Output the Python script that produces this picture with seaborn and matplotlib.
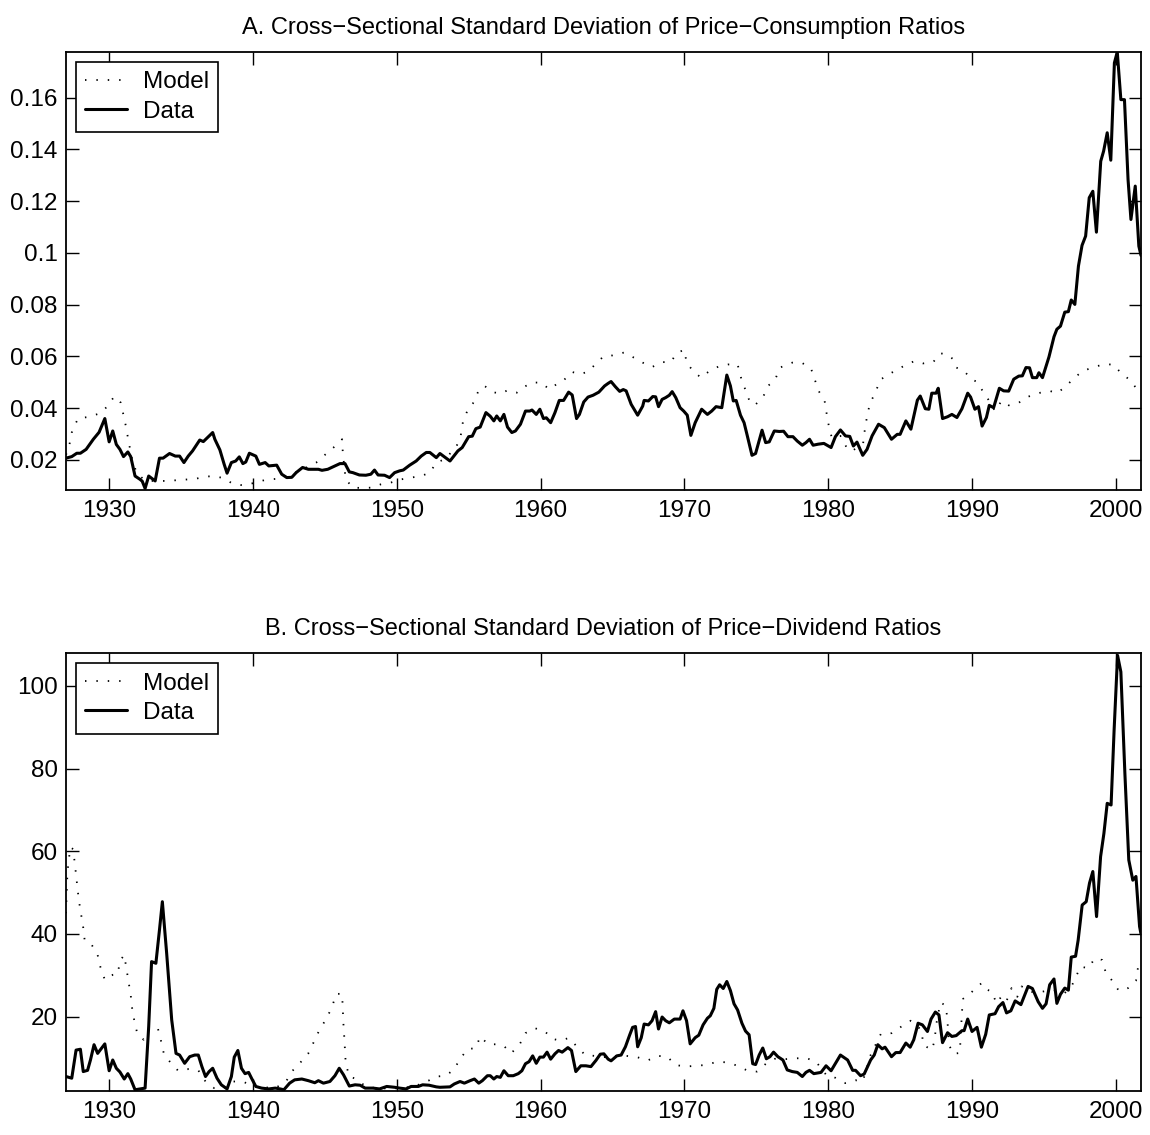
import numpy as np
import pandas as pd
import matplotlib
matplotlib.use("Agg")
import matplotlib.pyplot as plt
import seaborn as sns

sns.set_style("ticks")
plt.rcParams["font.family"] = ["Liberation Sans", "DejaVu Sans"]
plt.rcParams["text.color"] = "black"
plt.rcParams["xtick.color"] = "black"
plt.rcParams["ytick.color"] = "black"
plt.rcParams["axes.labelcolor"] = "black"

# ---------------- Panel A: price-consumption ratios ----------------
a_data_year = [1927.0, 1927.4, 1927.75, 1928.0, 1928.4, 1928.9, 1929.3, 1929.7, 1930.0, 1930.25,
               1930.5, 1930.75, 1931.0, 1931.3, 1931.5, 1931.8, 1932.15, 1932.3, 1932.5, 1932.75,
               1933.2, 1933.5, 1933.75, 1934.2, 1934.6, 1934.9, 1935.2, 1935.5, 1935.8, 1936.3,
               1936.55, 1936.9, 1937.2, 1937.35, 1937.7, 1938.0, 1938.2, 1938.5, 1938.8, 1939.05,
               1939.3, 1939.5, 1939.75, 1940.2, 1940.45, 1940.85, 1941.1, 1941.65, 1942.0, 1942.35,
               1942.7, 1943.0, 1943.45, 1943.85, 1944.2, 1944.55, 1944.8, 1945.2, 1945.7, 1946.05,
               1946.4, 1946.7, 1946.95, 1947.4, 1947.85, 1948.2, 1948.45, 1948.7, 1949.15, 1949.5,
               1949.85, 1950.2, 1950.45, 1950.9, 1951.35, 1951.7, 1952.05, 1952.3, 1952.75, 1953.0,
               1953.7, 1954.25, 1954.55, 1955.0, 1955.25, 1955.5, 1955.8, 1956.2, 1956.5, 1956.75,
               1956.95, 1957.2, 1957.45, 1957.7, 1958.0, 1958.25, 1958.6, 1958.95, 1959.25, 1959.4,
               1959.7, 1959.95, 1960.2, 1960.4, 1960.7, 1961.0, 1961.3, 1961.6, 1961.95, 1962.2,
               1962.5, 1962.7, 1963.0, 1963.3, 1963.65, 1964.05, 1964.45, 1964.7, 1964.9, 1965.2,
               1965.5, 1965.75, 1965.95, 1966.3, 1966.75, 1967.1, 1967.2, 1967.5, 1967.8, 1968.0,
               1968.2, 1968.45, 1968.7, 1968.95, 1969.15, 1969.4, 1969.7, 1969.95, 1970.2, 1970.45,
               1970.75, 1971.2, 1971.6, 1971.9, 1972.2, 1972.6, 1972.95, 1973.2, 1973.4, 1973.6,
               1973.9, 1974.15, 1974.35, 1974.7, 1974.95, 1975.4, 1975.65, 1975.9, 1976.25, 1976.6,
               1976.9, 1977.2, 1977.55, 1977.85, 1978.2, 1978.45, 1978.7, 1978.95, 1979.3, 1979.7,
               1980.2, 1980.5, 1980.85, 1981.2, 1981.5, 1981.75, 1982.0, 1982.4, 1982.7, 1983.05,
               1983.5, 1983.9, 1984.4, 1984.8, 1985.0, 1985.4, 1985.75, 1986.2, 1986.4, 1986.75,
               1987.0, 1987.2, 1987.5, 1987.65, 1987.95, 1988.3, 1988.6, 1988.95, 1989.3, 1989.7,
               1989.9, 1990.2, 1990.45, 1990.7, 1991.0, 1991.2, 1991.5, 1991.9, 1992.2, 1992.55,
               1992.9, 1993.25, 1993.5, 1993.75, 1994.0, 1994.2, 1994.5, 1994.65, 1994.9, 1995.35,
               1995.7, 1995.9, 1996.15, 1996.45, 1996.7, 1996.9, 1997.15, 1997.4, 1997.65, 1997.9,
               1998.15, 1998.4, 1998.65, 1998.95, 1999.15, 1999.4, 1999.65, 1999.9, 2000.1, 2000.35,
               2000.6, 2000.85, 2001.05, 2001.35, 2001.6, 2001.75]
a_data_val = [0.0207, 0.0213, 0.0226, 0.0226, 0.0241, 0.0280, 0.0307, 0.0360, 0.0270, 0.0312,
              0.0260, 0.0241, 0.0213, 0.0231, 0.0213, 0.0138, 0.0125, 0.0118, 0.0090, 0.0138,
              0.0119, 0.0207, 0.0207, 0.0225, 0.0215, 0.0215, 0.0190, 0.0215, 0.0235, 0.0277,
              0.0271, 0.0290, 0.0306, 0.0280, 0.0239, 0.0183, 0.0149, 0.0190, 0.0196, 0.0212,
              0.0186, 0.0192, 0.0226, 0.0215, 0.0183, 0.0190, 0.0177, 0.0180, 0.0145, 0.0132,
              0.0133, 0.0151, 0.0171, 0.0164, 0.0164, 0.0164, 0.0160, 0.0164, 0.0177, 0.0186,
              0.0186, 0.0154, 0.0151, 0.0142, 0.0141, 0.0145, 0.0161, 0.0142, 0.0141, 0.0132,
              0.0151, 0.0158, 0.0161, 0.0180, 0.0196, 0.0215, 0.0229, 0.0229, 0.0209, 0.0225,
              0.0196, 0.0235, 0.0248, 0.0290, 0.0292, 0.0321, 0.0327, 0.0383, 0.0369, 0.0351,
              0.0370, 0.0351, 0.0376, 0.0327, 0.0306, 0.0312, 0.0338, 0.0389, 0.0389, 0.0393,
              0.0376, 0.0396, 0.0360, 0.0363, 0.0344, 0.0383, 0.0430, 0.0430, 0.0462, 0.0451,
              0.0360, 0.0376, 0.0424, 0.0443, 0.0450, 0.0462, 0.0486, 0.0496, 0.0503, 0.0483,
              0.0465, 0.0472, 0.0467, 0.0415, 0.0373, 0.0408, 0.0430, 0.0428, 0.0445, 0.0444,
              0.0406, 0.0434, 0.0441, 0.0450, 0.0464, 0.0441, 0.0402, 0.0389, 0.0373, 0.0295,
              0.0344, 0.0396, 0.0376, 0.0389, 0.0406, 0.0402, 0.0528, 0.0486, 0.0428, 0.0430,
              0.0373, 0.0344, 0.0299, 0.0218, 0.0225, 0.0315, 0.0267, 0.0270, 0.0312, 0.0310,
              0.0311, 0.0290, 0.0290, 0.0273, 0.0257, 0.0267, 0.0280, 0.0257, 0.0261, 0.0264,
              0.0248, 0.0290, 0.0316, 0.0293, 0.0291, 0.0254, 0.0269, 0.0218, 0.0241, 0.0293,
              0.0338, 0.0325, 0.0280, 0.0299, 0.0299, 0.0351, 0.0319, 0.0431, 0.0447, 0.0398,
              0.0396, 0.0458, 0.0458, 0.0477, 0.0360, 0.0367, 0.0376, 0.0364, 0.0398, 0.0458,
              0.0443, 0.0396, 0.0406, 0.0331, 0.0364, 0.0411, 0.0402, 0.0477, 0.0467, 0.0466,
              0.0512, 0.0524, 0.0525, 0.0557, 0.0556, 0.0518, 0.0518, 0.0537, 0.0518, 0.0598,
              0.0676, 0.0705, 0.0717, 0.0771, 0.0773, 0.0818, 0.0801, 0.0949, 0.1029, 0.1065,
              0.1213, 0.1238, 0.1080, 0.1354, 0.1393, 0.1464, 0.1358, 0.1734, 0.1776, 0.1592,
              0.1592, 0.1283, 0.1129, 0.1258, 0.1026, 0.0990]

a_model_year = [1927.0, 1927.2, 1927.4, 1927.6, 1927.85, 1928.55, 1929.3, 1929.85, 1930.35, 1930.8,
                1931.0, 1931.2, 1931.35, 1931.6, 1931.9, 1932.4, 1932.85, 1934.0, 1935.0, 1936.0,
                1936.6, 1937.25, 1937.95, 1938.6, 1939.3, 1940.15, 1940.85, 1941.6, 1942.5, 1943.5,
                1944.4, 1945.05, 1945.6, 1946.2, 1946.25, 1946.45, 1946.95, 1947.5, 1948.25, 1948.9,
                1949.6, 1950.3, 1951.0, 1951.7, 1952.3, 1952.75, 1953.35, 1954.15, 1954.45, 1954.6,
                1954.95, 1955.3, 1955.7, 1956.1, 1956.7, 1957.2, 1957.7, 1958.35, 1958.85, 1959.4,
                1960.05, 1960.6, 1961.2, 1961.55, 1962.2, 1962.7, 1963.25, 1963.75, 1964.35, 1965.0,
                1965.8, 1966.5, 1967.1, 1967.75, 1968.45, 1969.05, 1969.5, 1970.0, 1970.15, 1970.6,
                1971.15, 1971.75, 1972.45, 1973.05, 1973.7, 1973.95, 1974.5, 1974.9, 1975.5, 1975.85,
                1976.3, 1976.65, 1977.5, 1978.15, 1978.8, 1979.1, 1979.4, 1979.75, 1979.9, 1980.05,
                1980.25, 1980.85, 1981.35, 1981.7, 1982.1, 1982.35, 1982.55, 1982.7, 1982.9, 1983.3,
                1983.6, 1984.2, 1984.75, 1985.35, 1986.0, 1986.6, 1987.3, 1987.8, 1988.25, 1988.65,
                1988.9, 1989.45, 1989.95, 1990.3, 1990.75, 1991.15, 1991.6, 1992.05, 1992.55, 1993.2,
                1993.75, 1994.35, 1994.9, 1995.45, 1995.9, 1996.5, 1997.05, 1997.7, 1998.4, 1999.1,
                1999.8, 2000.3, 2000.9, 2001.45, 2001.75]
a_model_val = [0.0220, 0.0248, 0.0306, 0.0333, 0.0361, 0.0366, 0.0379, 0.0405, 0.0445, 0.0422,
               0.0373, 0.0321, 0.0271, 0.0204, 0.0151, 0.0125, 0.0119, 0.0119, 0.0123, 0.0127,
               0.0135, 0.0138, 0.0130, 0.0108, 0.0102, 0.0112, 0.0123, 0.0127, 0.0140, 0.0165,
               0.0190, 0.0222, 0.0248, 0.0280, 0.0225, 0.0125, 0.0093, 0.0092, 0.0093, 0.0106,
               0.0113, 0.0125, 0.0132, 0.0138, 0.0151, 0.0190, 0.0203, 0.0252, 0.0295, 0.0347,
               0.0396, 0.0419, 0.0469, 0.0486, 0.0462, 0.0456, 0.0469, 0.0460, 0.0482, 0.0499,
               0.0499, 0.0473, 0.0496, 0.0505, 0.0540, 0.0531, 0.0540, 0.0566, 0.0599, 0.0604,
               0.0615, 0.0595, 0.0576, 0.0559, 0.0578, 0.0578, 0.0615, 0.0625, 0.0576, 0.0544,
               0.0518, 0.0544, 0.0563, 0.0569, 0.0569, 0.0515, 0.0432, 0.0411, 0.0447, 0.0488,
               0.0509, 0.0557, 0.0576, 0.0576, 0.0554, 0.0505, 0.0460, 0.0428, 0.0376, 0.0329,
               0.0286, 0.0293, 0.0241, 0.0235, 0.0254, 0.0229, 0.0319, 0.0368, 0.0419, 0.0462,
               0.0509, 0.0531, 0.0547, 0.0566, 0.0582, 0.0573, 0.0578, 0.0612, 0.0608, 0.0591,
               0.0557, 0.0544, 0.0512, 0.0503, 0.0466, 0.0432, 0.0389, 0.0428, 0.0411, 0.0419,
               0.0441, 0.0454, 0.0462, 0.0466, 0.0458, 0.0483, 0.0514, 0.0544, 0.0557, 0.0569,
               0.0569, 0.0540, 0.0512, 0.0476, 0.0465]

# ---------------- Panel B: price-dividend ratios ----------------
b_data_year = [1927.0, 1927.4, 1927.7, 1928.0, 1928.2, 1928.5, 1928.7, 1928.95, 1929.2, 1929.7,
               1930.0, 1930.25, 1930.5, 1930.75, 1931.05, 1931.3, 1931.5, 1931.8, 1932.15, 1932.5,
               1932.75, 1932.95, 1933.25, 1933.5, 1933.7, 1934.0, 1934.35, 1934.65, 1934.9, 1935.25,
               1935.6, 1935.95, 1936.2, 1936.45, 1936.7, 1936.95, 1937.2, 1937.5, 1937.8, 1938.2,
               1938.5, 1938.7, 1938.95, 1939.2, 1939.45, 1939.7, 1939.9, 1940.2, 1940.6, 1941.1,
               1941.55, 1941.9, 1942.15, 1942.55, 1942.9, 1943.4, 1943.85, 1944.3, 1944.55, 1944.9,
               1945.35, 1945.7, 1946.0, 1946.3, 1946.7, 1947.1, 1947.45, 1947.8, 1948.35, 1948.8,
               1949.3, 1949.85, 1950.2, 1950.65, 1951.0, 1951.5, 1951.8, 1952.25, 1952.75, 1953.0,
               1953.7, 1954.0, 1954.4, 1954.7, 1955.1, 1955.4, 1955.7, 1955.95, 1956.3, 1956.5,
               1956.75, 1956.95, 1957.2, 1957.45, 1957.75, 1958.1, 1958.45, 1958.7, 1958.95, 1959.2,
               1959.45, 1959.7, 1959.95, 1960.2, 1960.45, 1960.7, 1961.0, 1961.25, 1961.5, 1961.9,
               1962.15, 1962.45, 1962.8, 1963.15, 1963.5, 1963.85, 1964.15, 1964.4, 1964.7, 1964.9,
               1965.3, 1965.6, 1965.9, 1966.2, 1966.4, 1966.6, 1966.75, 1967.0, 1967.2, 1967.5,
               1967.75, 1968.0, 1968.2, 1968.45, 1968.7, 1968.95, 1969.3, 1969.7, 1969.9, 1970.15,
               1970.4, 1970.75, 1971.0, 1971.3, 1971.6, 1971.8, 1972.05, 1972.25, 1972.45, 1972.7,
               1972.95, 1973.2, 1973.45, 1973.7, 1974.0, 1974.25, 1974.5, 1974.75, 1974.95, 1975.2,
               1975.45, 1975.7, 1975.95, 1976.2, 1976.5, 1976.85, 1977.15, 1977.5, 1977.85, 1978.2,
               1978.45, 1978.7, 1979.0, 1979.5, 1979.85, 1980.2, 1980.85, 1981.35, 1981.7, 1981.9,
               1982.25, 1982.5, 1982.95, 1983.2, 1983.45, 1983.75, 1983.95, 1984.4, 1984.7, 1985.0,
               1985.4, 1985.7, 1985.95, 1986.25, 1986.55, 1986.9, 1987.15, 1987.45, 1987.7, 1987.95,
               1988.3, 1988.6, 1988.9, 1989.3, 1989.45, 1989.7, 1990.0, 1990.35, 1990.65, 1990.95,
               1991.2, 1991.6, 1991.85, 1992.15, 1992.4, 1992.7, 1993.0, 1993.4, 1993.9, 1994.2,
               1994.6, 1994.9, 1995.15, 1995.4, 1995.7, 1995.9, 1996.15, 1996.45, 1996.7, 1996.9,
               1997.2, 1997.38, 1997.66, 1997.94, 1998.17, 1998.4, 1998.66, 1998.94, 1999.17, 1999.4,
               1999.67, 1999.88, 2000.12, 2000.35, 2000.63, 2000.9, 2001.18, 2001.4, 2001.65, 2001.75]
b_data_val = [5.5, 5.1, 11.9, 12.1, 6.7, 7.0, 9.5, 13.2, 11.1, 13.4,
              6.9, 9.5, 7.5, 6.6, 4.9, 6.2, 4.9, 2.3, 2.5, 2.7,
              17.6, 33.3, 32.9, 41.0, 47.8, 35.3, 19.2, 11.1, 10.7, 8.7,
              10.3, 10.7, 10.7, 7.9, 5.5, 6.7, 7.5, 5.1, 3.5, 2.5,
              5.5, 10.2, 11.8, 7.5, 6.2, 6.5, 5.1, 3.1, 2.7, 2.5,
              2.7, 2.5, 2.3, 3.9, 4.7, 4.9, 4.5, 4.0, 4.5, 3.9,
              4.3, 5.7, 7.5, 5.9, 3.2, 3.5, 3.4, 2.7, 2.7, 2.5,
              3.1, 2.9, 2.7, 2.5, 3.1, 3.1, 3.5, 3.4, 3.0, 2.9,
              3.0, 3.7, 4.3, 3.9, 4.5, 4.9, 3.9, 4.5, 5.7, 5.7,
              4.9, 5.5, 5.3, 6.9, 5.7, 5.7, 6.2, 6.9, 8.6, 9.1,
              10.5, 8.7, 10.2, 10.2, 11.4, 9.7, 11.0, 11.8, 11.4, 12.5,
              11.8, 6.7, 8.1, 8.1, 7.9, 9.4, 10.9, 11.0, 9.7, 9.3,
              10.5, 10.7, 12.7, 15.6, 17.4, 17.6, 12.7, 14.9, 18.2, 18.0,
              19.0, 21.2, 17.0, 19.9, 19.0, 18.5, 19.4, 19.4, 21.4, 19.0,
              13.4, 14.9, 15.5, 18.0, 19.6, 20.2, 22.0, 26.6, 27.7, 26.8,
              28.5, 26.3, 23.1, 21.6, 18.4, 16.5, 15.6, 8.6, 8.4, 10.7,
              12.4, 9.8, 10.3, 11.4, 10.3, 9.5, 7.1, 6.7, 6.5, 5.5,
              6.5, 7.0, 6.2, 6.5, 8.1, 6.9, 10.7, 9.5, 7.0, 7.0,
              5.7, 6.1, 9.5, 10.7, 13.2, 12.2, 12.6, 10.3, 11.3, 11.3,
              13.6, 12.6, 14.4, 18.4, 18.0, 16.4, 19.4, 21.1, 20.4, 13.7,
              16.1, 15.2, 15.4, 16.6, 16.6, 19.4, 16.4, 17.4, 12.6, 15.7,
              20.4, 20.7, 22.4, 23.4, 20.9, 21.4, 23.8, 22.9, 27.3, 26.8,
              23.6, 22.0, 23.1, 27.7, 29.1, 23.2, 25.4, 26.9, 26.4, 34.4,
              34.6, 38.5, 47.0, 47.8, 52.3, 55.1, 44.2, 58.7, 64.3, 71.6,
              71.2, 89.3, 107.4, 103.4, 78.8, 57.9, 53.0, 53.9, 41.8, 40.0]

b_model_year = [1927.0, 1927.1, 1927.3, 1927.5, 1927.6, 1927.7, 1927.8, 1927.9, 1928.05, 1928.2,
                1928.3, 1928.8, 1929.2, 1929.4, 1929.7, 1930.25, 1930.6, 1930.75, 1931.05, 1931.2,
                1931.35, 1931.5, 1931.6, 1931.75, 1931.95, 1932.4, 1932.75, 1933.4, 1933.6, 1933.8,
                1934.3, 1934.8, 1935.5, 1936.2, 1936.7, 1937.3, 1938.0, 1938.6, 1939.3, 1940.0,
                1941.55, 1942.3, 1942.75, 1943.3, 1943.85, 1944.25, 1944.6, 1945.05, 1945.45, 1945.8,
                1946.2, 1946.25, 1946.3, 1946.35, 1946.4, 1946.45, 1946.7, 1947.2, 1947.8, 1948.5,
                1949.5, 1950.5, 1951.5, 1952.2, 1952.8, 1953.4, 1953.95, 1954.4, 1954.9, 1955.5,
                1955.8, 1956.35, 1956.9, 1957.45, 1957.95, 1958.55, 1958.95, 1959.6, 1960.3, 1960.85,
                1961.35, 1961.95, 1962.55, 1963.1, 1963.75, 1964.4, 1965.3, 1965.95, 1966.7, 1967.45,
                1968.15, 1968.8, 1969.4, 1970.05, 1970.8, 1971.5, 1972.3, 1973.0, 1973.7, 1974.4,
                1975.05, 1975.7, 1976.3, 1977.0, 1977.75, 1978.45, 1979.15, 1979.95, 1980.5, 1981.2,
                1981.9, 1982.4, 1982.96, 1983.66, 1984.42, 1985.05, 1985.74, 1986.5, 1986.6, 1987.2,
                1987.4, 1987.5, 1987.8, 1988.17, 1988.28, 1988.4, 1988.68, 1989.15, 1989.3, 1989.38,
                1989.8, 1990.25, 1990.67, 1991.06, 1991.4, 1991.69, 1992.03, 1992.38, 1992.75, 1993.15,
                1993.45, 1994.15, 1994.84, 1995.58, 1996.45, 1996.97, 1997.55, 1998.08, 1998.54, 1999.05,
                1999.28, 1999.74, 2000.2, 2000.85, 2001.4, 2001.55, 2001.75]
b_model_val = [45.0, 55.0, 61.0, 60.5, 57.5, 54.3, 51.0, 48.0, 44.8, 41.5,
               38.4, 37.3, 34.9, 31.9, 28.9, 30.1, 30.3, 33.5, 34.9, 31.7,
               28.5, 25.2, 22.0, 19.0, 16.0, 14.4, 17.0, 17.0, 14.2, 11.1,
               8.7, 6.9, 7.3, 7.0, 4.3, 2.7, 2.7, 4.3, 4.3, 3.1,
               2.7, 4.3, 6.9, 8.9, 11.1, 14.0, 16.6, 19.2, 21.9, 25.5,
               25.5, 21.5, 17.6, 15.0, 11.8, 8.7, 5.5, 4.9, 3.2, 2.7,
               2.6, 2.7, 3.5, 4.5, 5.5, 5.7, 7.1, 9.7, 12.1, 12.4,
               15.2, 13.3, 13.3, 12.9, 11.1, 13.3, 16.0, 17.2, 16.4, 14.6,
               14.2, 14.8, 12.7, 10.7, 10.5, 10.2, 10.5, 10.5, 10.2, 9.4,
               10.5, 10.3, 8.3, 7.9, 8.1, 8.3, 9.1, 8.9, 8.1, 6.9,
               6.7, 8.7, 9.8, 9.7, 9.9, 10.0, 9.1, 5.5, 5.2, 3.9,
               4.6, 4.3, 10.8, 15.8, 16.0, 17.5, 19.0, 16.7, 13.2, 11.9,
               14.2, 17.9, 23.4, 22.7, 19.6, 13.2, 11.0, 11.2, 21.1, 24.3,
               25.3, 26.9, 28.1, 26.5, 26.0, 23.2, 24.8, 23.6, 26.9, 24.8,
               27.3, 26.0, 26.0, 26.5, 25.7, 27.7, 32.1, 31.7, 34.1, 33.7,
               30.9, 28.7, 26.3, 26.9, 28.7, 32.1, 32.5]

x_ticks = [1930, 1940, 1950, 1960, 1970, 1980, 1990, 2000]
a_yticks = [0.02, 0.04, 0.06, 0.08, 0.1, 0.12, 0.14, 0.16]
a_ylabels = ["0.02", "0.04", "0.06", "0.08", "0.1", "0.12", "0.14", "0.16"]
b_yticks = [20, 40, 60, 80, 100]
b_ylabels = ["20", "40", "60", "80", "100"]
title_a = "A. Cross\u2212Sectional Standard Deviation of Price\u2212Consumption Ratios"
title_b = "B. Cross\u2212Sectional Standard Deviation of Price\u2212Dividend Ratios"

FS = 17.5
FS_TITLE = 17.0
W, H = 1150, 1135
fig = plt.figure(figsize=(W / 100, H / 100), dpi=100)
axA = fig.add_axes([66 / W, 1 - 490 / H, 1075 / W, 438 / H])
axB = fig.add_axes([66 / W, 1 - 1091 / H, 1075 / W, 437.7 / H])


def draw(ax, my, mv, dy, dv, ylim, yticks, ylabels, title):
    dfm = pd.DataFrame({"year": my, "value": mv})
    dfd = pd.DataFrame({"year": dy, "value": dv})
    sns.lineplot(data=dfm, x="year", y="value", ax=ax, color="black", linewidth=1.3,
                 linestyle=(0, (0.8, 5.5)), label="Model", estimator=None, sort=False)
    sns.lineplot(data=dfd, x="year", y="value", ax=ax, color="black", linewidth=2.2,
                 label="Data", estimator=None, sort=False)
    ax.set_xlim(1927.0, 2001.75)
    ax.set_ylim(*ylim)
    ax.set_xticks(x_ticks)
    ax.set_xticklabels([str(t) for t in x_ticks])
    ax.set_yticks(yticks)
    ax.set_yticklabels(ylabels)
    ax.set_xlabel("")
    ax.set_ylabel("")
    ax.tick_params(direction="in", length=9, width=1.0, top=True, right=True,
                   labelsize=FS, colors="black")
    ax.tick_params(axis="x", pad=7)
    ax.tick_params(axis="y", pad=6)
    for s in ax.spines.values():
        s.set_visible(True)
        s.set_linewidth(1.3)
        s.set_color("black")
    ax.set_title(title, fontsize=FS_TITLE, pad=13, color="black")
    leg = ax.legend(loc="upper left", bbox_to_anchor=(0.009, 0.978), borderaxespad=0,
                    frameon=True, fancybox=False, edgecolor="black", framealpha=1,
                    handlelength=1.7, handletextpad=0.65, borderpad=0.4,
                    labelspacing=0.3, fontsize=FS)
    leg.get_frame().set_linewidth(1.2)
    for t in leg.get_texts():
        t.set_color("black")


draw(axA, a_model_year, a_model_val, a_data_year, a_data_val, (0.0084, 0.1776),
     a_yticks, a_ylabels, title_a)
draw(axB, b_model_year, b_model_val, b_data_year, b_data_val, (2.0, 107.9),
     b_yticks, b_ylabels, title_b)

fig.savefig("out.png", dpi=100, facecolor="white")
